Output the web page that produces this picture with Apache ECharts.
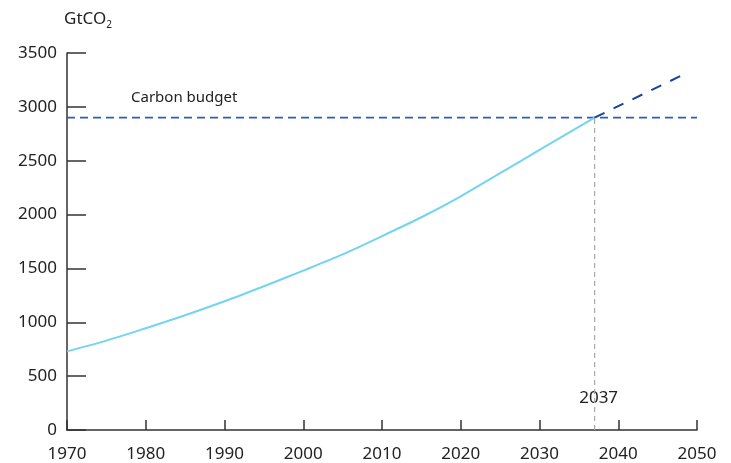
<!DOCTYPE html>
<html>
<head>
<meta charset="utf-8">
<script src="https://cdn.jsdelivr.net/npm/echarts@6/dist/echarts.min.js"></script>
<style>
  html, body { margin: 0; padding: 0; background: #fff; }
  #chart { width: 731px; height: 463px; }
</style>
</head>
<body>
<div id="chart"></div>
<script>
// Cumulative CO2 emissions (GtCO2) by year
const years = [1970, 1975, 1980, 1985, 1990, 1995, 2000, 2005, 2010, 2015, 2020, 2025, 2030, 2037];
const emissions = [730, 830, 945, 1065, 1195, 1335, 1480, 1630, 1800, 1975, 2170, 2385, 2600, 2900];

// Extension beyond the budget crossing
const projectionYears = [2037, 2049];
const projectionValues = [2900, 3325];

// Remaining carbon budget level and the year it is reached
const budgetLevel = 2900;
const budgetYear = 2037;
const budgetLabel = 'Carbon budget';

const xTicks = [1970, 1980, 1990, 2000, 2010, 2020, 2030, 2040, 2050];
const yTicks = [0, 500, 1000, 1500, 2000, 2500, 3000, 3500];

const FONT = '"Noto Sans", "Open Sans", sans-serif';
const chart = echarts.init(document.getElementById('chart'));

const option = {
  animation: false,
  grid: { left: 67, right: 34, top: 53, bottom: 32 },
  xAxis: {
    type: 'value',
    min: xTicks[0],
    max: xTicks[xTicks.length - 1],
    interval: 10,
    axisLine: { lineStyle: { color: '#333', width: 1.5 } },
    axisTick: { inside: true, length: 10, lineStyle: { color: '#333', width: 1.5 } },
    axisLabel: { color: '#222', fontSize: 17, fontFamily: FONT, margin: 16, formatter: v => String(v) },
    splitLine: { show: false }
  },
  yAxis: {
    type: 'value',
    min: yTicks[0],
    max: yTicks[yTicks.length - 1],
    interval: 500,
    axisLine: { show: true, lineStyle: { color: '#333', width: 1.5 } },
    axisTick: { show: true, inside: true, length: 19, lineStyle: { color: '#333', width: 1.5 } },
    axisLabel: { color: '#222', fontSize: 17, fontFamily: FONT, margin: 10, formatter: v => String(v) },
    splitLine: { show: false }
  },
  graphic: [
    {
      type: 'text',
      left: 64,
      top: 11,
      style: {
        text: '{a|GtCO}{b|2}',
        rich: {
          a: { fontSize: 17, fontFamily: FONT, fill: '#222' },
          b: { fontSize: 10, fontFamily: FONT, fill: '#222', padding: [11, 0, 0, 0] }
        }
      }
    },
    {
      type: 'text',
      left: 131,
      top: 90,
      style: { text: budgetLabel, fontSize: 15, fontFamily: FONT, fill: '#222' }
    }
  ],
  series: [
    {
      name: 'Budget',
      type: 'line',
      data: [[xTicks[0], budgetLevel], [xTicks[xTicks.length - 1], budgetLevel]],
      symbol: 'none',
      lineStyle: { color: '#2c5cc0', width: 1.8, type: [8, 5] },
      z: 2
    },
    {
      name: 'Crossing',
      type: 'line',
      data: [[budgetYear, 0], [budgetYear, budgetLevel]],
      symbol: 'none',
      lineStyle: { color: '#a8a8a8', width: 1.2, type: [5, 4] },
      z: 1
    },
    {
      name: 'Emissions',
      type: 'line',
      data: years.map((y, i) => [y, emissions[i]]),
      symbol: 'none',
      smooth: 0.3,
      lineStyle: { color: '#74d4f0', width: 2 },
      z: 3
    },
    {
      name: 'Projection',
      type: 'line',
      data: projectionYears.map((y, i) => [y, projectionValues[i]]),
      symbol: 'none',
      lineStyle: { color: '#1b419f', width: 2, type: [11, 10] },
      z: 4
    }
  ]
};

chart.setOption(option);

// Year label placed just above the x axis at the crossing year
const p = chart.convertToPixel({ gridIndex: 0 }, [budgetYear, 0]);
chart.setOption({
  graphic: option.graphic.concat([{
    type: 'text',
    x: p[0] + 4,
    y: p[1] - 32,
    style: {
      text: String(budgetYear),
      fontSize: 17,
      fontFamily: FONT,
      fill: '#222',
      align: 'center',
      verticalAlign: 'middle'
    }
  }])
});
</script>
</body>
</html>
